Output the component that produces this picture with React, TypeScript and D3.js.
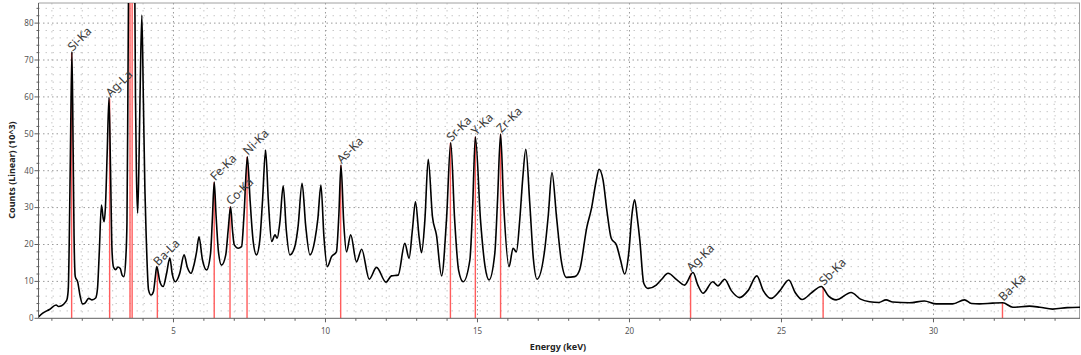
import React from "react";
import * as d3 from "d3";

// Spectrum: energy (keV) and counts (10^3)
const energy = [
  0.55, 0.7, 0.92, 1.14, 1.22, 1.32, 1.44, 1.5, 1.54, 1.57, 1.61, 1.66, 1.7, 1.73, 1.77, 1.85, 1.93, 2.01, 2.1, 2.21,
  2.32, 2.44, 2.5, 2.56, 2.63, 2.69, 2.72, 2.76, 2.82, 2.88, 2.93, 2.98, 3.03, 3.1, 3.17, 3.25, 3.31, 3.37, 3.43, 3.47,
  3.5, 3.53, 3.6, 3.68, 3.72, 3.75, 3.78, 3.82, 3.86, 3.91, 3.96, 4.01, 4.06, 4.1, 4.18, 4.26, 4.34, 4.4, 4.45, 4.55,
  4.66, 4.77, 4.88, 4.96, 5.06, 5.2, 5.35, 5.45, 5.58, 5.66, 5.76, 5.84, 5.95, 6.09, 6.22, 6.28, 6.34, 6.4, 6.48, 6.58,
  6.72, 6.8, 6.88, 6.94, 7.0, 7.13, 7.24, 7.32, 7.43, 7.52, 7.62, 7.73, 7.84, 7.93, 8.03, 8.12, 8.23, 8.34, 8.41, 8.5,
  8.61, 8.71, 8.83, 8.99, 9.1, 9.23, 9.35, 9.49, 9.65, 9.75, 9.85, 9.95, 10.06, 10.2, 10.36, 10.44, 10.51, 10.6, 10.69, 10.83,
  11.02, 11.19, 11.44, 11.68, 11.99, 12.17, 12.39, 12.61, 12.75, 12.86, 12.96, 13.08, 13.16, 13.27, 13.38, 13.52, 13.65, 13.82, 13.98, 14.12,
  14.25, 14.38, 14.53, 14.75, 14.84, 14.93, 15.1, 15.25, 15.38, 15.57, 15.66, 15.76, 15.86, 16.04, 16.17, 16.28, 16.39, 16.49, 16.59, 16.72,
  16.84, 16.96, 17.21, 17.33, 17.45, 17.6, 17.75, 17.93, 18.2, 18.36, 18.6, 18.75, 18.9, 19.0, 19.13, 19.26, 19.4, 19.57, 19.7, 19.84,
  19.98, 20.08, 20.17, 20.26, 20.34, 20.47, 20.61, 20.88, 21.05, 21.27, 21.55, 21.81, 22.09, 22.25, 22.42, 22.74, 22.91, 23.13, 23.35, 23.62,
  23.9, 24.19, 24.4, 24.66, 24.95, 25.24, 25.45, 25.68, 26.0, 26.31, 26.55, 26.8, 27.29, 27.6, 27.9, 28.2, 28.44, 28.66, 29.21, 29.7,
  30.09, 30.63, 31.02, 31.25, 31.51, 31.95, 32.28, 32.61, 33.16, 33.5, 33.92, 34.4, 34.85,
];
const counts = [
  0.3, 1.4, 2.4, 3.6, 3.2, 3.4, 4.3, 5.2, 8, 20, 45, 72.3, 45, 22, 11.3, 9.8, 6, 3.9, 4.2, 5.4,
  5.0, 5.5, 8, 18, 30.7, 27, 26.2, 29.9, 45, 59.9, 40, 18, 13.8, 13.2, 13.9, 13.5, 11.7, 11.3, 16, 26,
  60, 100, 150, 140, 100, 60, 40, 28.5, 40, 65, 82.2, 59, 35, 23, 7.7, 6.3, 7.2, 11, 14.0, 10,
  8.6, 12, 16.3, 12, 9.9, 12, 17.2, 14, 12.2, 14, 18, 22.1, 16, 13.1, 17.6, 27, 36.9, 28, 18, 14.4,
  17.2, 24, 30.2, 24, 19.9, 19.0, 19.4, 28, 43.8, 32, 21, 17.2, 21.2, 32, 45.6, 32, 20.8, 22.6, 21.7, 26,
  35.9, 24, 17.2, 19.4, 25, 36.6, 25, 17.2, 21.2, 27, 36.1, 22, 14.0, 16.7, 18, 28, 41.5, 26, 18, 22.6,
  15.3, 18.7, 10.6, 13.8, 9.8, 11.5, 11.7, 20.3, 16.3, 24, 31.6, 22, 17.8, 26.6, 43.1, 27.5, 22.6, 11.5, 26.6, 47.6,
  26.6, 13, 9.9, 15.8, 30, 49.2, 26.6, 14, 10.4, 17.6, 32, 49.9, 31.2, 14.0, 19, 18, 26.6, 38, 45.8, 31.2,
  16, 10.6, 18.5, 28, 39.5, 27.5, 16, 11.1, 11.3, 13.1, 24.8, 29.8, 37, 40.4, 37.5, 29, 21.7, 19.9, 16, 12.0,
  18, 28, 32.1, 27, 21.2, 9.5, 8.1, 9.0, 10.5, 12.2, 10.5, 9.0, 12.4, 9, 6.8, 9.9, 8.8, 10.6, 7.5, 5.6,
  7.5, 11.5, 7.5, 5.4, 7.5, 10.4, 7, 5.1, 7.0, 8.6, 6, 5.0, 7.0, 5.2, 4.5, 4.3, 5.0, 4.4, 4.2, 4.7,
  3.9, 3.9, 5.0, 4.0, 3.9, 4.1, 4.2, 3.0, 3.3, 3.0, 2.5, 2.9, 3.0,
];

// Element markers
const markerNames = ["Si-Ka", "Ag-La", "", "", "Ba-La", "Fe-Ka", "Co-Ka", "Ni-Ka", "As-Ka", "Sr-Ka", "Y-Ka", "Zr-Ka", "Ag-Ka", "Sb-Ka", "Ba-Ka"];
const markerEnergy = [1.65, 2.9, 3.57, 3.64, 4.47, 6.34, 6.86, 7.42, 10.5, 14.11, 14.93, 15.76, 22.01, 26.37, 32.27];
const markerHeight = [72, 59.5, 120, 120, 13.8, 36.9, 30.2, 43.8, 41.5, 47.5, 49.2, 49.9, 12.2, 8.5, 4.2];

const xTicks = [5, 10, 15, 20, 25, 30];
const yTicks = [0, 10, 20, 30, 40, 50, 60, 70, 80];

const W = 1081;
const H = 355;
const L = 38.5;
const R = 1080;
const T = 3;
const B = 318.3;

export default function App() {
  const x = d3.scaleLinear().domain([0.56, 34.82]).range([L, R]);
  const y = d3.scaleLinear().domain([0, 85.45]).range([B, T]);
  const pts = energy.map((e, i) => [e, counts[i]] as [number, number]);
  const line = d3
    .line<[number, number]>()
    .x((d) => x(d[0]))
    .y((d) => y(d[1]))
    .curve(d3.curveMonotoneX);

  const minorX = d3.range(1, 35);
  const minorY = d3.range(2, 86, 2).filter((v) => v % 10 !== 0);
  const font = "'Noto Sans', 'Open Sans', sans-serif";

  return (
    <svg
      width={W}
      height={H}
      style={{ position: "absolute", left: 0, top: 0, background: "#fff" }}
      fontFamily={font}
    >
      <defs>
        <clipPath id="plot">
          <rect x={L} y={T} width={R - L} height={B - T} />
        </clipPath>
      </defs>
      {/* minor grid */}
      {minorY.map((v) => (
        <line key={"my" + v} x1={L} x2={R} y1={y(v)} y2={y(v)} stroke="#c8c8c8" strokeWidth={1} strokeDasharray="1.5,5.5" />
      ))}
      {minorX
        .filter((v) => v % 5 !== 0)
        .map((v) => (
          <line key={"mx" + v} x1={x(v)} x2={x(v)} y1={T} y2={B} stroke="#c8c8c8" strokeWidth={1} strokeDasharray="1.5,5.5" />
        ))}
      {/* major grid */}
      {yTicks
        .filter((v) => v > 0)
        .map((v) => (
          <line key={"gy" + v} x1={L} x2={R} y1={y(v)} y2={y(v)} stroke="#9a9a9a" strokeWidth={1} strokeDasharray="1.5,3" />
        ))}
      {xTicks.map((v) => (
        <line key={"gx" + v} x1={x(v)} x2={x(v)} y1={T} y2={B} stroke="#9a9a9a" strokeWidth={1} strokeDasharray="1.5,3" />
      ))}
      {/* frame */}
      <line x1={L} x2={R} y1={T} y2={T} stroke="#a0a0a0" strokeWidth={1} />
      <line x1={R - 0.5} x2={R - 0.5} y1={T} y2={B} stroke="#a0a0a0" strokeWidth={1} />

      {/* markers */}
      <g clipPath="url(#plot)">
        {markerEnergy.map((e, i) => (
          <line
            key={"m" + i}
            x1={x(e)}
            x2={x(e)}
            y1={B}
            y2={y(markerHeight[i])}
            stroke="#ff5c5c"
            strokeWidth={1.4}
          />
        ))}
        <path d={line(pts) || ""} fill="none" stroke="#000" strokeWidth={1.6} strokeLinejoin="round" />
      </g>
      {markerEnergy.map((e, i) =>
        markerNames[i] ? (
          <text
            key={"t" + i}
            transform={`translate(${x(e) + 1},${y(markerHeight[i]) - 1}) rotate(-45)`}
            fontSize={12}
            fill="#3a3a3a"
          >
            {markerNames[i]}
          </text>
        ) : null
      )}

      {/* axes */}
      <line x1={L} x2={L} y1={T} y2={B} stroke="#606060" strokeWidth={1} />
      <line x1={L} x2={R} y1={B} y2={B} stroke="#606060" strokeWidth={1} />
      {d3.range(0, 86, 2).map((v) => (
        <line key={"yt" + v} x1={L - (v % 10 === 0 ? 4 : 2)} x2={L} y1={y(v)} y2={y(v)} stroke="#606060" strokeWidth={1} />
      ))}
      {minorX.map((v) => (
        <line key={"xt" + v} x1={x(v)} x2={x(v)} y1={B} y2={B + (v % 5 === 0 ? 4 : 2.5)} stroke="#606060" strokeWidth={1} />
      ))}
      {yTicks.map((v) => (
        <text key={"yl" + v} x={L - 5} y={y(v)} dy="0.35em" textAnchor="end" fontSize={8} fill="#555">
          {v}
        </text>
      ))}
      {xTicks.map((v) => (
        <text key={"xl" + v} x={x(v)} y={334} textAnchor="middle" fontSize={8} fill="#555">
          {v}
        </text>
      ))}
      <text x={558} y={350} textAnchor="middle" fontSize={9} fontWeight="bold" fill="#222">
        Energy (keV)
      </text>
      <text
        transform={`translate(15,170) rotate(-90)`}
        textAnchor="middle"
        fontSize={9}
        fontWeight="bold"
        fill="#222"
      >
        Counts (Linear) (10^3)
      </text>
    </svg>
  );
}
